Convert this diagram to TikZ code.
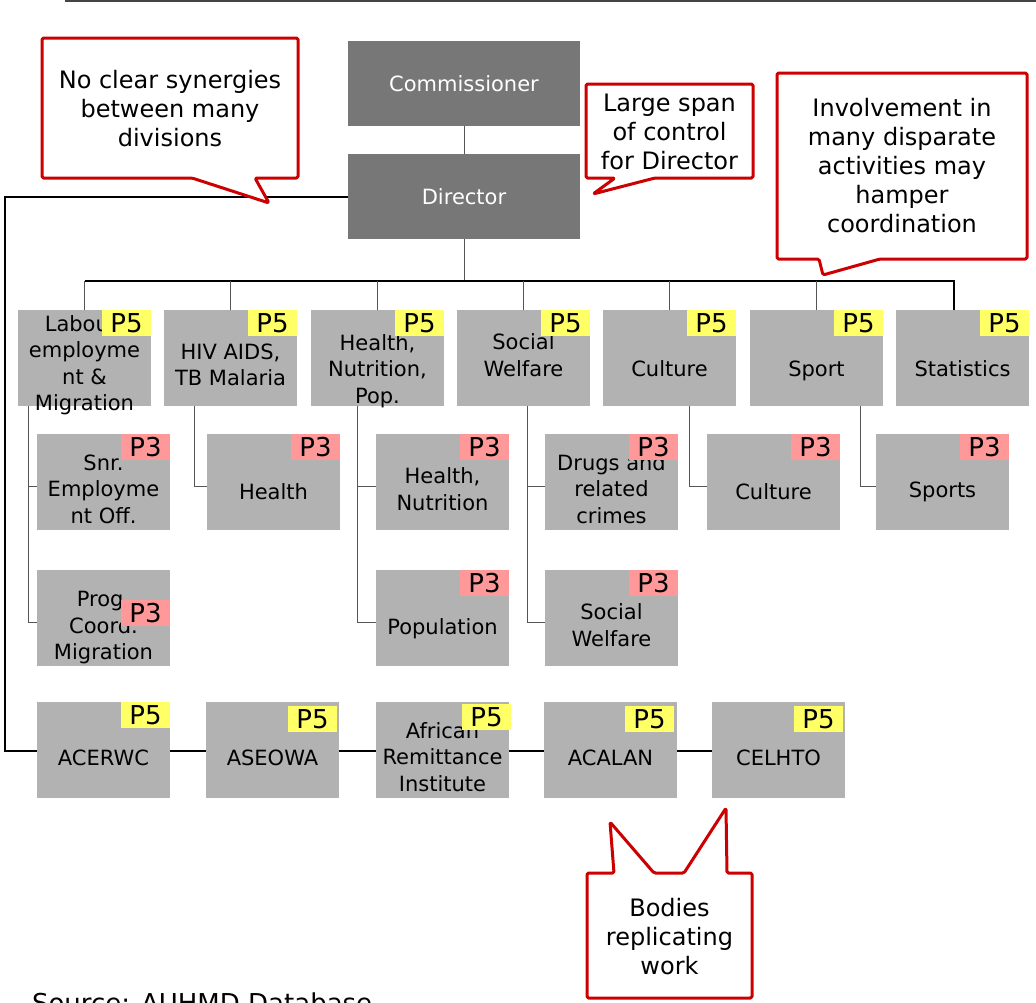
\documentclass[tikz,border=0pt]{standalone}
\usepackage{fontspec}
\setmainfont{DejaVu Sans}
\definecolor{boxdark}{HTML}{777777}
\definecolor{boxgray}{HTML}{B2B2B2}
\definecolor{tagyellow}{HTML}{FFFF66}
\definecolor{tagpink}{HTML}{FF9999}
\definecolor{calloutred}{HTML}{CC0000}
\definecolor{linkgray}{HTML}{555555}
\definecolor{rulegray}{HTML}{444444}
% box with its (slightly lowered) centred caption; optional extra drop in pt
\newcommand\OrgUnit[5][0]{%
  \node[orgbox] (#2) at (#3,#4) {};
  \node[boxtext] (#2-t) at ([yshift={-7pt-#1pt}]#2.center) {#5};
}
\begin{document}
\begin{tikzpicture}[x=1pt,y=-1pt,
  every node/.style={inner sep=0pt, outer sep=0pt},
  topbox/.style={fill=boxdark, minimum width=232pt, minimum height=85pt,
    text=white, font=\fontsize{21}{26}\selectfont},
  orgbox/.style={fill=boxgray, minimum width=133pt, minimum height=96pt, anchor=north west},
  boxtext/.style={align=center, font=\fontsize{21}{26.5}\selectfont, text=black},
  ptag/.style={minimum width=49pt, minimum height=26pt, text height=19pt, text depth=0pt,
    font=\fontsize{26}{26}\selectfont, anchor=north east},
  pfive/.style={ptag, fill=tagyellow},
  pthree/.style={ptag, fill=tagpink},
  bus/.style={line width=2pt, black},
  link/.style={line width=1pt, linkgray},
  callout/.style={draw=calloutred, line width=3pt, fill=white, rounded corners=1.5pt, line join=round},
  callouttext/.style={align=center, font=\fontsize{24}{29}\selectfont}
]
\clip (0,0) rectangle (1036,1002);

% header rule
\draw[line width=2pt, rulegray] (65,1) -- (1036,1);

% top management
\node[topbox] (com) at (464,83.5) {Commissioner};
\node[topbox] (dir) at (464,196.5) {Director};

% named anchor points for the buses
\coordinate (busL) at (84.5,281);
\coordinate (busR) at (954,281);
\coordinate (lft) at (5,750.5);

% divisions
\OrgUnit{lab}{18}{310}{Labour,\\employme\\nt \&\\Migration}
\OrgUnit{hiv}{164}{310}{HIV AIDS,\\TB Malaria}
\OrgUnit[6]{hnp}{311}{310}{Health,\\Nutrition,\\Pop.}
\OrgUnit[-10]{soc}{457}{310}{Social\\Welfare}
\OrgUnit[4]{cul}{603}{310}{Culture}
\OrgUnit[6]{spo}{750}{310}{Sport}
\OrgUnit[4]{stat}{896}{310}{Statistics}

% connectors to the divisions and the specialised bodies
\draw[link] (com.south) -- (dir.north);
\draw[link] (dir.south) -- (dir.south |- busL);
\draw[bus] (busL) -- (busR) -- (busR |- stat.north);
\foreach \n in {lab,hiv,hnp,soc,cul,spo}
  \draw[link] (\n.north) -- (\n.north |- busL);
\draw[bus] (dir.west) -| (lft) -- (712,750.5);

% drop points under the divisions
\coordinate (labdrop) at ([xshift=10pt]lab.south west);
\coordinate (hivdrop) at ([xshift=30pt]hiv.south west);
\coordinate (hnpdrop) at ([xshift=46pt]hnp.south west);
\coordinate (socdrop) at ([xshift=70pt]soc.south west);
\coordinate (culdrop) at ([xshift=86pt]cul.south west);
\coordinate (spodrop) at ([xshift=110pt]spo.south west);

% units
\OrgUnit{snr}{37}{434}{Snr.\\Employme\\nt Off.}
\OrgUnit[3]{hivh}{207}{434}{Health}
\OrgUnit{hn}{376}{434}{Health,\\Nutrition}
\OrgUnit{drugs}{545}{434}{Drugs and\\related\\crimes}
\OrgUnit[3]{cult}{707}{434}{Culture}
\OrgUnit[3]{sports}{876}{434}{Sports}
\OrgUnit[3]{prog}{37}{570}{Prog.\\Coord.\\Migration}
\OrgUnit[4]{pop}{376}{570}{Population}
\OrgUnit{sw}{545}{570}{Social\\Welfare}

\draw[link] (labdrop) |- ([yshift=-4pt]prog.west);
\draw[link] ([yshift=-4pt]snr.west) -| (labdrop);
\draw[link] ([yshift=-4pt]hivh.west) -| (hivdrop);
\draw[link] (hnpdrop) |- ([yshift=-4pt]pop.west);
\draw[link] ([yshift=-4pt]hn.west) -| (hnpdrop);
\draw[link] (socdrop) |- ([yshift=-4pt]sw.west);
\draw[link] ([yshift=-4pt]drugs.west) -| (socdrop);
\draw[link] ([yshift=-4pt]cult.west) -| (culdrop);
\draw[link] ([yshift=-4pt]sports.west) -| (spodrop);

% specialised bodies
\OrgUnit[1]{acerwc}{37}{702}{ACERWC}
\OrgUnit[1]{aseowa}{206}{702}{ASEOWA}
\OrgUnit{ari}{376}{702}{African\\Remittance\\Institute}
\OrgUnit[1]{acalan}{544}{702}{ACALAN}
\OrgUnit[1]{celhto}{712}{702}{CELHTO}

% grade tags
\foreach \n in {lab,hiv,hnp,soc,cul,spo,stat,acerwc}
  \node[pfive] (\n-p) at (\n.north east) {P5};
\node[pfive] (aseowa-p) at ([xshift=-2pt,yshift=-4pt]aseowa.north east) {P5};
\node[pfive] (ari-p) at ([xshift=2pt,yshift=-2pt]ari.north east) {P5};
\node[pfive] (acalan-p) at ([xshift=-3pt,yshift=-4pt]acalan.north east) {P5};
\node[pfive] (celhto-p) at ([xshift=-2pt,yshift=-4pt]celhto.north east) {P5};
\foreach \n in {snr,hivh,hn,drugs,cult,sports,pop,sw}
  \node[pthree] (\n-p) at (\n.north east) {P3};
\node[pthree] (prog-p) at ([yshift=-30pt]prog.north east) {P3};

% remarks
\draw[callout] (42,38) -- (298,38) -- (298,178) -- (255,178) -- (269,203) -- (192,178) -- (42,178) -- cycle;
\node[callouttext] (c1) at (170,109) {No clear synergies\\between many\\divisions};

\draw[callout] (586,84) -- (753,84) -- (753,178) -- (655,178) -- (593,194) -- (615,178) -- (586,178) -- cycle;
\node[callouttext] (c2) at (669.5,132) {Large span\\of control\\for Director};

\draw[callout] (777,73) -- (1027,73) -- (1027,259) -- (880,259) -- (823,275) -- (819,259) -- (777,259) -- cycle;
\node[callouttext] (c3) at (902,166) {Involvement in\\many disparate\\activities may\\hamper\\coordination};

\draw[callout] (587,873) -- (614,873) -- (610,822) -- (654,873) -- (684,873) -- (726,808) -- (727,873) -- (752,873) -- (752,998) -- (587,998) -- cycle;
\node[callouttext] (c4) at (669.5,937) {Bodies\\replicating\\work};

% source line
\node[anchor=base west, font=\fontsize{26}{30}\selectfont] (src) at (32,1012) {Source: AUHMD Database};
\end{tikzpicture}
\end{document}
